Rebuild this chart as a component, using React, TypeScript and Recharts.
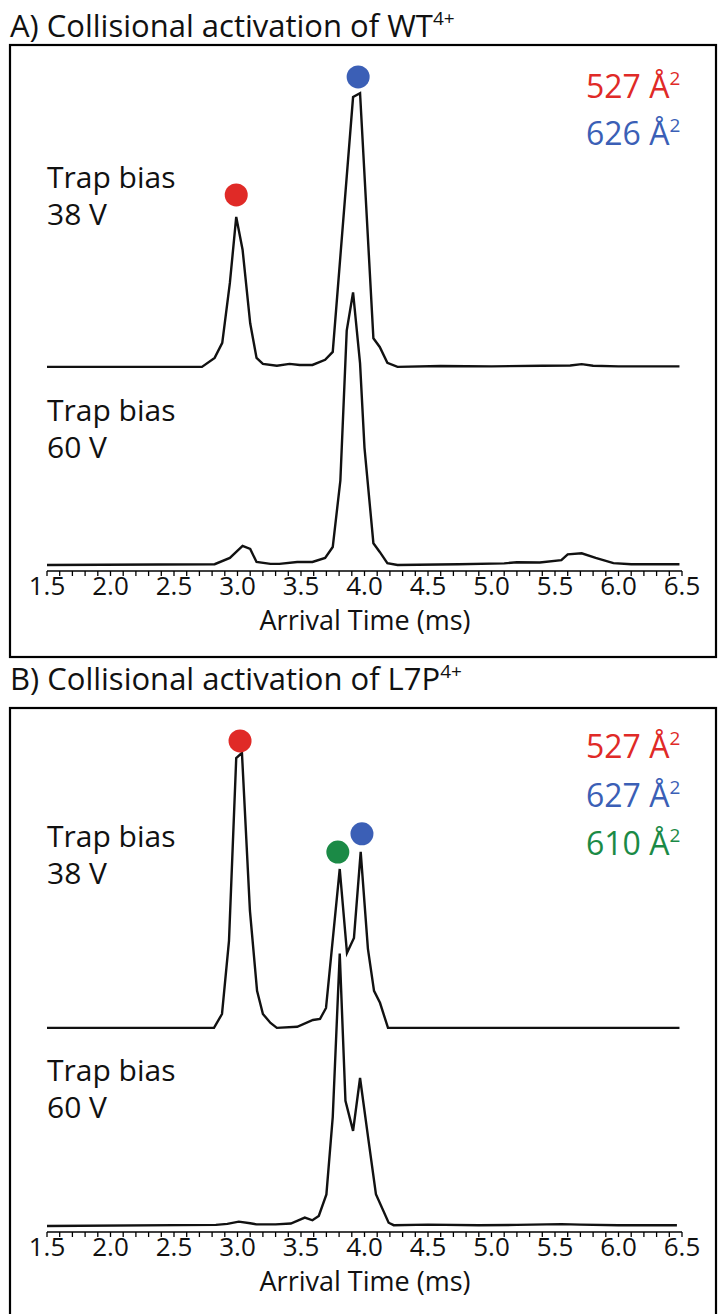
import { LineChart, Line, XAxis, YAxis, ReferenceDot } from "recharts"

const FONT = '"Open Sans", "Noto Sans", sans-serif'

// arrival time ticks (ms), labels only on the half-ms ticks
const TICKS = [
  1.5, 1.6, 1.7, 1.8, 1.9, 2.0, 2.1, 2.2, 2.3, 2.4, 2.5, 2.6, 2.7, 2.8, 2.9, 3.0, 3.1,
  3.2, 3.3, 3.4, 3.5, 3.6, 3.7, 3.8, 3.9, 4.0, 4.1, 4.2, 4.3, 4.4, 4.5, 4.6, 4.7, 4.8,
  4.9, 5.0, 5.1, 5.2, 5.3, 5.4, 5.5, 5.6, 5.7, 5.8, 5.9, 6.0, 6.1, 6.2, 6.3, 6.4, 6.5,
]
const TICK_LABELS = ["1.5", "2.0", "2.5", "3.0", "3.5", "4.0", "4.5", "5.0", "5.5", "6.0", "6.5"]

// vertical offset of the upper (38 V) trace above the lower (60 V) trace
const TRACE_OFFSET = 72.7

// A) WT4+, trap bias 38 V
const wt38Time = [1.5, 2.72, 2.82, 2.88, 2.94, 2.99, 3.04, 3.1, 3.15, 3.2, 3.31, 3.41, 3.49, 3.59, 3.69, 3.75, 3.91, 3.965, 4.07, 4.12, 4.18, 4.26, 4.6, 5.0, 5.4, 5.62, 5.71, 5.8, 6.0, 6.48]
const wt38Int = [0, 0, 3.3, 8.8, 30.8, 55, 43, 16, 3.3, 1.1, 0.4, 1.1, 0.7, 0.7, 2.6, 5.5, 99, 100.4, 10.5, 7.3, 1.5, 0, 0.3, 0.2, 0.4, 0.5, 1.0, 0.4, 0.2, 0.2]

// A) WT4+, trap bias 60 V
const wt60Time = [1.5, 2.82, 2.94, 3.04, 3.1, 3.15, 3.26, 3.33, 3.47, 3.59, 3.69, 3.75, 3.81, 3.86, 3.91, 3.965, 4.0, 4.07, 4.12, 4.18, 4.26, 4.74, 5.1, 5.2, 5.38, 5.55, 5.6, 5.71, 5.82, 5.96, 6.1, 6.48]
const wt60Int = [0, 0.3, 2.6, 7.0, 5.9, 1.1, 0.4, 0.4, 1.1, 1.1, 2.6, 6.6, 31, 86, 100, 74, 43, 8, 4.8, 0.7, 0, 0.3, 0.6, 1.0, 0.9, 1.8, 3.9, 4.3, 2.6, 0.7, 0.3, 0.3]

// B) L7P4+, trap bias 38 V
const l7p38Time = [1.5, 2.815, 2.878, 2.933, 2.99, 3.035, 3.098, 3.154, 3.2, 3.26, 3.31, 3.47, 3.594, 3.65, 3.697, 3.805, 3.862, 3.917, 3.97, 4.027, 4.075, 4.122, 4.185, 4.6, 5.2, 5.7, 6.48]
const l7p38Int = [0, 0, 5.1, 31.9, 99, 100.9, 42.9, 13.6, 5.1, 1.8, 0, 0.4, 2.9, 3.3, 7.3, 58.3, 27.5, 33, 64.6, 29, 13.6, 9.2, 0, 0, 0, 0, 0]

// B) L7P4+, trap bias 60 V
const l7p60Time = [1.5, 2.83, 2.92, 3.01, 3.1, 3.15, 3.3, 3.42, 3.53, 3.59, 3.64, 3.7, 3.75, 3.805, 3.85, 3.91, 3.965, 4.03, 4.09, 4.19, 4.23, 4.5, 4.9, 5.2, 5.55, 5.7, 6.0, 6.46]
const l7p60Int = [0, 0.4, 0.8, 1.6, 1.0, 0.6, 0.6, 0.9, 3.1, 2.1, 3.7, 11.6, 40, 100, 45.9, 34.9, 54.3, 32, 11.7, 1.2, 0.3, 0.5, 0.3, 0.4, 0.7, 0.5, 0.3, 0.3]

// conformer markers: [time, height]
const RED = "#e02a27"
const BLUE = "#3b5fb6"
const GREEN = "#1b8a46"
const wtMarkers = [
  { t: 2.99, y: 135.8, color: RED },
  { t: 3.95, y: 179.1, color: BLUE },
]
const l7pMarkers = [
  { t: 3.02, y: 178, color: RED },
  { t: 3.79, y: 137.2, color: GREEN },
  { t: 3.98, y: 143.9, color: BLUE },
]

type Row = { t: number; v: number }
type Marker = { t: number; y: number; color: string }

function toRows(times: number[], vals: number[], shift = 0): Row[] {
  return times.map((t, i) => ({ t, v: vals[i] + shift }))
}

function fmtTick(v: number) {
  const s = v.toFixed(1)
  return TICK_LABELS.includes(s) ? s : ""
}

function TracePanel({ top, upper, lower, markers }: { top: number; upper: Row[]; lower: Row[]; markers: Marker[] }) {
  return (
    <div style={{ position: "absolute", left: 0, top }}>
      <LineChart width={718} height={566} margin={{ top: 24, right: 36, bottom: 0, left: 47 }}>
        <XAxis
          type="number"
          dataKey="t"
          domain={[1.5, 6.5]}
          ticks={TICKS}
          interval={0}
          tickFormatter={fmtTick}
          tickSize={5}
          tickMargin={1}
          height={40}
          allowDataOverflow
          axisLine={{ stroke: "#000", strokeWidth: 1.6 }}
          tickLine={{ stroke: "#000", strokeWidth: 1.3 }}
          tick={{ fill: "#111", fontSize: 26, fontFamily: FONT }}
        />
        <YAxis hide type="number" domain={[-2.2, 182]} allowDataOverflow />
        <Line data={upper} dataKey="v" type="linear" stroke="#111" strokeWidth={2.4} dot={false} isAnimationActive={false} />
        <Line data={lower} dataKey="v" type="linear" stroke="#111" strokeWidth={2.4} dot={false} isAnimationActive={false} />
        {markers.map((m, i) => (
          <ReferenceDot key={i} x={m.t} y={m.y} r={11.5} fill={m.color} stroke="none" ifOverflow="visible" />
        ))}
      </LineChart>
    </div>
  )
}

function Area({ x, y, value, color }: { x: number; y: number; value: string; color: string }) {
  return (
    <text x={x} y={y} fill={color} fontSize={32} fontFamily={FONT}>
      {value} Å
      <tspan fontSize={19} dy={-13}>2</tspan>
    </text>
  )
}

// two-line "Trap bias / xx V" label
function BiasLabel({ y, volts }: { y: number; volts: string }) {
  return (
    <text fontSize={30} fontFamily={FONT} fill="#111">
      <tspan x={47} y={y}>Trap bias</tspan>
      <tspan x={47} y={y + 37}>{volts}</tspan>
    </text>
  )
}

export default function App() {
  const txt = { fontFamily: FONT, fill: "#111" }
  return (
    <div style={{ position: "absolute", left: 0, top: 0, width: 718, height: 1314, background: "#fff", overflow: "hidden" }}>
      <TracePanel
        top={45}
        upper={toRows(wt38Time, wt38Int, TRACE_OFFSET)}
        lower={toRows(wt60Time, wt60Int)}
        markers={wtMarkers}
      />
      <TracePanel
        top={706}
        upper={toRows(l7p38Time, l7p38Int, TRACE_OFFSET)}
        lower={toRows(l7p60Time, l7p60Int)}
        markers={l7pMarkers}
      />
      <svg width={718} height={1314} style={{ position: "absolute", left: 0, top: 0, pointerEvents: "none" }}>
        <rect x={10} y={45} width={706} height={612} fill="none" stroke="#000" strokeWidth={2.2} />
        <rect x={10} y={708} width={706} height={640} fill="none" stroke="#000" strokeWidth={2.2} />

        <text x={10} y={37} fontSize={31} {...txt}>
          A) Collisional activation of WT<tspan fontSize={19} dy={-12}>4+</tspan>
        </text>
        <text x={10} y={690} fontSize={31} {...txt}>
          B) Collisional activation of L7P<tspan fontSize={19} dy={-12}>4+</tspan>
        </text>

        <BiasLabel y={188} volts="38 V" />
        <BiasLabel y={421} volts="60 V" />
        <BiasLabel y={847} volts="38 V" />
        <BiasLabel y={1081} volts="60 V" />

        <Area x={586} y={98} value="527" color={RED} />
        <Area x={586} y={145} value="626" color={BLUE} />
        <Area x={586} y={758} value="527" color={RED} />
        <Area x={586} y={807} value="627" color={BLUE} />
        <Area x={586} y={855} value="610" color={GREEN} />

        <text x={365} y={630} fontSize={27} textAnchor="middle" {...txt}>Arrival Time (ms)</text>
        <text x={365} y={1291} fontSize={27} textAnchor="middle" {...txt}>Arrival Time (ms)</text>
      </svg>
    </div>
  )
}
